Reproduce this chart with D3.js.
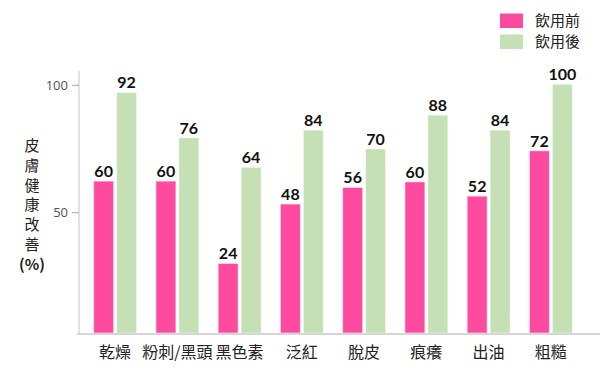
<!DOCTYPE html>
<html lang="zh-Hant">
<head>
  <meta charset="UTF-8">
  <title>皮膚健康改善</title>
  <script src="https://d3js.org/d3.v7.min.js"></script>
  <style>
    body { margin: 0; background: #fff; }
    svg { display: block; font-family: "Noto Sans CJK TC", "Noto Sans", sans-serif; }
    .val { font-family: Lato, "Open Sans", sans-serif; font-weight: bold; font-size: 16px; fill: #111; }
    .tick-label { font-family: "Open Sans", sans-serif; font-size: 13px; fill: #505050; }
  </style>
</head>
<body>
<svg width="600" height="383"></svg>
<script>
  const categories = ["乾燥", "粉刺/黑頭", "黑色素", "泛紅", "脫皮", "痕癢", "出油", "粗糙"];
  const series = ["飲用前", "飲用後"];
  // bar heights as drawn against the axis
  const beforeValues = [62.4, 62.4, 30.1, 53.4, 59.9, 62.1, 56.5, 74.3];
  const afterValues = [97.2, 79.4, 67.8, 82.4, 75.0, 88.3, 82.4, 100.4];
  // numbers printed above the bars
  const beforeLabels = [60, 60, 24, 48, 56, 60, 52, 72];
  const afterLabels = [92, 76, 64, 84, 70, 88, 84, 100];
  const yTicks = [50, 100];
  const colors = ["#ff4b9f", "#c5e0b4"];

  const svg = d3.select("svg");

  const x0 = d3.scaleBand().domain(categories).range([84, 582])
    .paddingInner(0.31).paddingOuter(0.155);
  const x1 = d3.scaleBand().domain(series).range([0, x0.bandwidth()]).paddingInner(0.13);
  const y = d3.scaleLinear().domain([2.4, 100]).range([334, 85.3]);

  // y axis line
  svg.append("line")
    .attr("x1", 79).attr("x2", 79).attr("y1", 71).attr("y2", 334)
    .attr("stroke", "#d9d9d9").attr("stroke-width", 1.5);

  const yAxis = svg.append("g").selectAll("g").data(yTicks).enter().append("g");
  yAxis.append("line")
    .attr("x1", 72).attr("x2", 79)
    .attr("y1", d => y(d)).attr("y2", d => y(d))
    .attr("stroke", "#8ea9db").attr("stroke-width", 1);
  yAxis.append("text")
    .attr("class", "tick-label")
    .attr("x", 68).attr("y", d => y(d))
    .attr("dy", "0.35em")
    .attr("text-anchor", "end")
    .text(d => d);

  // bars
  const rows = categories.map((c, i) => ({
    cat: c,
    bars: [
      { s: series[0], v: beforeValues[i], label: beforeLabels[i] },
      { s: series[1], v: afterValues[i], label: afterLabels[i] }
    ]
  }));

  const groups = svg.append("g").selectAll("g").data(rows).enter().append("g")
    .attr("transform", d => `translate(${x0(d.cat)},0)`);

  groups.selectAll("rect").data(d => d.bars).enter().append("rect")
    .attr("x", d => x1(d.s))
    .attr("y", d => y(d.v))
    .attr("width", x1.bandwidth())
    .attr("height", d => y(2.4) - y(d.v) - 1)
    .attr("fill", (d, i) => colors[i])
    .attr("stroke", "rgba(255,255,255,0.5)")
    .attr("stroke-width", 1);

  groups.selectAll("text").data(d => d.bars).enter().append("text")
    .attr("class", "val")
    .attr("x", d => x1(d.s) + x1.bandwidth() / 2)
    .attr("y", d => y(d.v) - 4)
    .attr("text-anchor", "middle")
    .text(d => d.label);

  // x baseline
  svg.append("line")
    .attr("x1", 77).attr("x2", 600).attr("y1", 334).attr("y2", 334)
    .attr("stroke", "#c8c8c8").attr("stroke-width", 1.5);

  // category labels
  svg.append("g").selectAll("text").data(categories).enter().append("text")
    .attr("x", d => x0(d) + x0.bandwidth() / 2)
    .attr("y", 358)
    .attr("text-anchor", "middle")
    .attr("font-size", 16)
    .attr("fill", "#222")
    .text(d => d);

  // y title, stacked vertically
  const titleChars = ["皮", "膚", "健", "康", "改", "善", "(%)"];
  svg.append("g").selectAll("text").data(titleChars).enter().append("text")
    .attr("x", 32)
    .attr("y", (d, i) => 151 + i * 19.8)
    .attr("text-anchor", "middle")
    .attr("font-size", 15)
    .attr("font-weight", d => d === "(%)" ? "bold" : "normal")
    .attr("fill", "#222")
    .text(d => d);

  // legend
  const legend = svg.append("g").selectAll("g").data(series).enter().append("g")
    .attr("transform", (d, i) => `translate(500,${13.5 + i * 21})`);
  legend.append("rect")
    .attr("width", 23).attr("height", 14.5)
    .attr("fill", (d, i) => colors[i]);
  legend.append("text")
    .attr("x", 35).attr("y", 7.5).attr("dy", "0.36em")
    .attr("font-size", 15)
    .attr("fill", "#222")
    .text(d => d);
</script>
</body>
</html>
